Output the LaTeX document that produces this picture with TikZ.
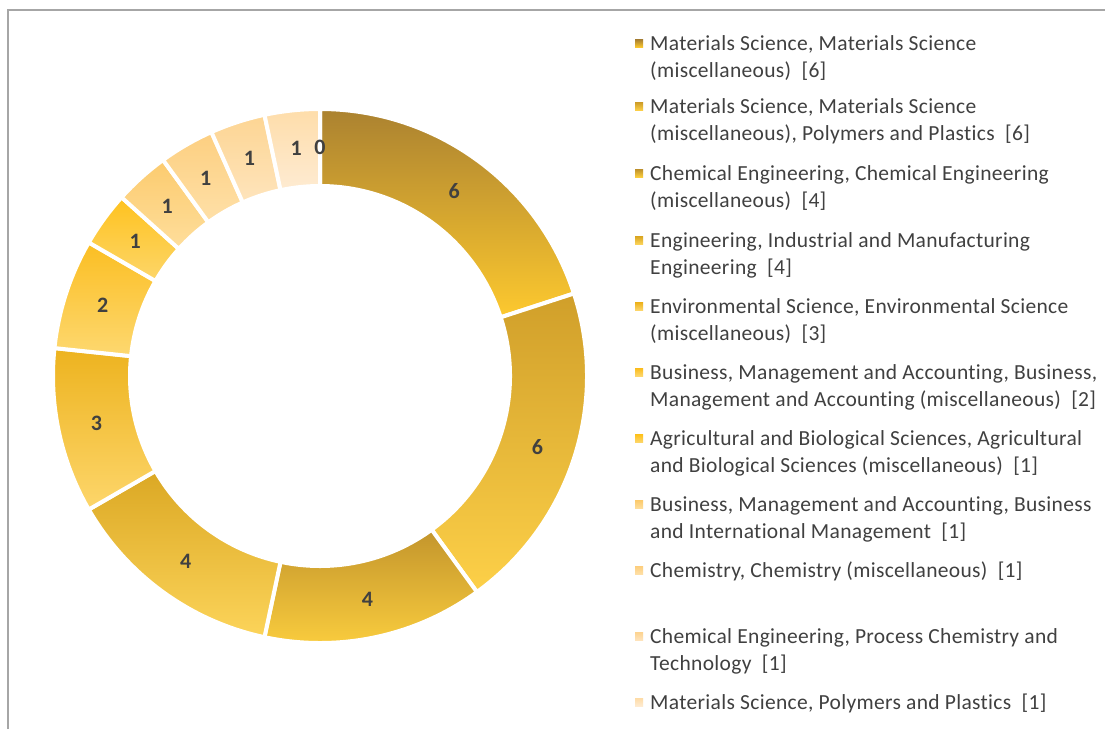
\documentclass[tikz,border=0pt]{standalone}
\usepackage{fontspec}
\setmainfont{Carlito}
\newfontfamily\legfont[LetterSpace=1.5,RawFeature=-liga]{Carlito}
\usetikzlibrary{calc}
\definecolor{txt}{HTML}{404040}
\definecolor{frm}{HTML}{A6A6A6}
\definecolor{aT}{HTML}{AB8230}\definecolor{aB}{HTML}{FDC92F}
\definecolor{bT}{HTML}{D09F2A}\definecolor{bB}{HTML}{FDD048}
\definecolor{cT}{HTML}{C3952C}\definecolor{cB}{HTML}{FDD03F}
\definecolor{dT}{HTML}{DBA824}\definecolor{dB}{HTML}{FCD45A}
\definecolor{eT}{HTML}{EDB31F}\definecolor{eB}{HTML}{FDD66B}
\definecolor{fT}{HTML}{FBBE22}\definecolor{fB}{HTML}{FDD870}
\definecolor{gT}{HTML}{FEC21E}\definecolor{gB}{HTML}{FDD66A}
\definecolor{hT}{HTML}{FCCB6E}\definecolor{hB}{HTML}{FEDE9C}
\definecolor{iT}{HTML}{FDCF80}\definecolor{iB}{HTML}{FEE0A8}
\definecolor{jT}{HTML}{FDD593}\definecolor{jB}{HTML}{FEE4BC}
\definecolor{kT}{HTML}{FEDDAA}\definecolor{kB}{HTML}{FEEBD2}
\newcommand\Rout{267}
\newcommand\Rin{190}
\newcommand\Rmid{228.5}
\newcommand\donutseg[4]{%
  \path[segstyle, top color=#3, bottom color=#4]
    ($(C)+(#1:\Rout)$) arc[start angle=#1,end angle=#2,radius=\Rout]
    -- ($(C)+(#2:\Rin)$) arc[start angle=#2,end angle=#1,radius=\Rin] -- cycle;}
\newcommand\legmark[4]{% name, baseline y, topcol, botcol
  \node[legmarker, top color=#3, bottom color=#4] (#1) at (639,-#2+7) {};}
\begin{document}
\begin{tikzpicture}[x=1pt,y=1pt,
  segstyle/.style={draw=white, line width=4pt, line join=miter},
  seglabel/.style={font=\fontsize{22}{24}\selectfont\bfseries, text=txt, inner sep=0pt},
  legtext/.style={font=\legfont\fontsize{21.5}{27}\selectfont, text=txt, anchor=base west, inner sep=0pt},
  legmarker/.style={minimum width=8pt, minimum height=7.5pt, inner sep=0pt, draw=none}]
\useasboundingbox (0,0) rectangle (1105,-729);
\fill[white] (0,0) rectangle (1105,-729);
\draw[frm, line width=1.5pt] (8,-729) -- (8,-10) -- (1105,-10);
\coordinate (C) at (320,-376);
% donut segments
\donutseg{90}{18}{aT}{aB}
\donutseg{18}{-54}{bT}{bB}
\donutseg{-54}{-102}{cT}{cB}
\donutseg{-102}{-150}{dT}{dB}
\donutseg{-150}{-186}{eT}{eB}
\donutseg{-186}{-210}{fT}{fB}
\donutseg{-210}{-222}{gT}{gB}
\donutseg{-222}{-234}{hT}{hB}
\donutseg{-234}{-246}{iT}{iB}
\donutseg{-246}{-258}{jT}{jB}
\donutseg{-258}{-270}{kT}{kB}
% segment labels
\node[seglabel] (s1) at ($(C)+(54:\Rmid)$) {6};
\node[seglabel] (s2) at ($(C)+(-18:\Rmid)$) {6};
\node[seglabel] (s3) at ($(C)+(-78:\Rmid)$) {4};
\node[seglabel] (s4) at ($(C)+(-126:\Rmid)$) {4};
\node[seglabel] (s5) at ($(C)+(-168:\Rmid)$) {3};
\node[seglabel] (s6) at ($(C)+(-198:\Rmid)$) {2};
\node[seglabel] (s7) at ($(C)+(-216:\Rmid)$) {1};
\node[seglabel] (s8) at ($(C)+(-228:\Rmid)$) {1};
\node[seglabel] (s9) at ($(C)+(-240:\Rmid)$) {1};
\node[seglabel] (s10) at ($(C)+(-252:\Rmid)$) {1};
\node[seglabel] (s11) at ($(C)+(-264:\Rmid)$) {1};
\node[seglabel] (s12) at ($(C)+(90:\Rmid)$) {0};
% legend
\legmark{m1}{50.5}{aT}{aB}
\node[legtext] (t1a) at (650,-50.5) {Materials Science, Materials Science};
\node[legtext] (t1b) at (650,-77.5) {(miscellaneous)~ [6]};
\legmark{m2}{113.5}{bT}{bB}
\node[legtext] (t2a) at (650,-113.5) {Materials Science, Materials Science};
\node[legtext] (t2b) at (650,-140.5) {(miscellaneous), Polymers and Plastics~ [6]};
\legmark{m3}{180.5}{cT}{cB}
\node[legtext] (t3a) at (650,-180.5) {Chemical Engineering, Chemical Engineering};
\node[legtext] (t3b) at (650,-207.5) {(miscellaneous)~ [4]};
\legmark{m4}{247.5}{dT}{dB}
\node[legtext] (t4a) at (650,-247.5) {Engineering, Industrial and Manufacturing};
\node[legtext] (t4b) at (650,-274.5) {Engineering~ [4]};
\legmark{m5}{313.5}{eT}{eB}
\node[legtext] (t5a) at (650,-313.5) {Environmental Science, Environmental Science};
\node[legtext] (t5b) at (650,-340.5) {(miscellaneous)~ [3]};
\legmark{m6}{379.5}{fT}{fB}
\node[legtext] (t6a) at (650,-379.5) {Business, Management and Accounting, Business,};
\node[legtext] (t6b) at (650,-406.5) {Management and Accounting (miscellaneous)~ [2]};
\legmark{m7}{445.5}{gT}{gB}
\node[legtext] (t7a) at (650,-445.5) {Agricultural and Biological Sciences, Agricultural};
\node[legtext] (t7b) at (650,-472.5) {and Biological Sciences (miscellaneous)~ [1]};
\legmark{m8}{511.5}{hT}{hB}
\node[legtext] (t8a) at (650,-511.5) {Business, Management and Accounting, Business};
\node[legtext] (t8b) at (650,-538.5) {and International Management~ [1]};
\legmark{m9}{577.5}{iT}{iB}
\node[legtext] (t9a) at (650,-577.5) {Chemistry, Chemistry (miscellaneous)~ [1]};
\legmark{m10}{643.5}{jT}{jB}
\node[legtext] (t10a) at (650,-643.5) {Chemical Engineering, Process Chemistry and};
\node[legtext] (t10b) at (650,-670.5) {Technology~ [1]};
\legmark{m11}{709.5}{kT}{kB}
\node[legtext] (t11a) at (650,-709.5) {Materials Science, Polymers and Plastics~ [1]};
\end{tikzpicture}
\end{document}
